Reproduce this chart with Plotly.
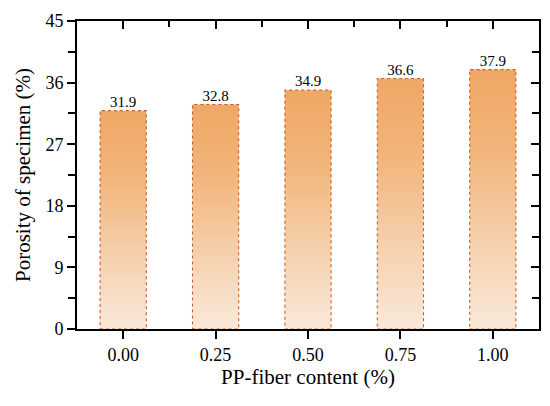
import plotly.graph_objects as go

# data
fiber_content = ["0.00", "0.25", "0.50", "0.75", "1.00"]
porosity = [31.9, 32.8, 34.9, 36.6, 37.9]
y_ticks = [0, 9, 18, 27, 36, 45]

FONT = "Palatino Linotype, Book Antiqua, Palatino, Liberation Serif, DejaVu Serif, serif"
BAR_W = 0.5
grad = [[0.0, "#f9e9da"], [0.35, "#f5cfab"], [0.7, "#f2b479"], [1.0, "#f0a765"]]

fig = go.Figure()

for i, v in enumerate(porosity):
    x0, x1 = i - BAR_W / 2, i + BAR_W / 2
    fig.add_trace(go.Scatter(
        x=[x0, x1, x1, x0, x0], y=[0, 0, v, v, 0],
        mode="lines", fill="toself",
        fillgradient=dict(type="vertical", colorscale=grad),
        line=dict(color="#c2612a", width=1.1, dash="dot"),
        hoverinfo="skip", showlegend=False,
    ))

fig.add_trace(go.Scatter(
    x=list(range(len(porosity))), y=porosity,
    mode="text", text=[f"{v:.1f}" for v in porosity],
    textposition="top center",
    textfont=dict(family=FONT, size=15, color="black"),
    showlegend=False, hoverinfo="skip",
))

# invisible trace so the mirror axes get drawn
fig.add_trace(go.Scatter(x=[0], y=[0], xaxis="x2", yaxis="y2",
                         mode="markers", marker=dict(opacity=0),
                         showlegend=False, hoverinfo="skip"))

axis_font = dict(family=FONT, size=18, color="black")
title_font = dict(family=FONT, size=21, color="black")
xr = [-0.5, len(porosity) - 0.5]

fig.update_layout(
    width=550, height=406,
    margin=dict(l=77, r=11, t=16, b=77),
    plot_bgcolor="white", paper_bgcolor="white",
    font=dict(family=FONT, color="black"),
    xaxis=dict(
        range=xr, tickmode="array",
        tickvals=list(range(len(fiber_content))), ticktext=fiber_content,
        ticks="outside", ticklen=8, tickwidth=1.6, tickcolor="black",
        showline=True, linecolor="black", linewidth=2, showgrid=False,
        zeroline=False, tickfont=axis_font,
        title=dict(text="PP-fiber content (%)", font=title_font, standoff=6),
    ),
    yaxis=dict(
        range=[0, 45], tickmode="array", tickvals=y_ticks,
        ticks="outside", ticklen=8, tickwidth=1.6, tickcolor="black",
        minor=dict(dtick=4.5, ticks="outside", ticklen=7, tickwidth=1.6,
                   tickcolor="black"),
        showline=True, linecolor="black", linewidth=2, showgrid=False,
        zeroline=False, tickfont=axis_font,
        title=dict(text="Porosity of specimen (%)", font=title_font, standoff=9),
    ),
    xaxis2=dict(
        overlaying="x", side="top", anchor="y", range=xr,
        tickmode="linear", tick0=0, dtick=1,
        ticks="inside", ticklen=8, tickwidth=1.6, tickcolor="black",
        minor=dict(dtick=0.5, tick0=0, ticks="inside", ticklen=6,
                   tickwidth=1.6, tickcolor="black"),
        showticklabels=False, showline=True, linecolor="black", linewidth=2,
        showgrid=False, zeroline=False,
    ),
    yaxis2=dict(
        overlaying="y", side="right", anchor="x", range=[0, 45],
        tickmode="array", tickvals=y_ticks,
        ticks="inside", ticklen=8, tickwidth=1.6, tickcolor="black",
        minor=dict(dtick=4.5, ticks="inside", ticklen=7, tickwidth=1.6,
                   tickcolor="black"),
        showticklabels=False, showline=True, linecolor="black", linewidth=2,
        showgrid=False, zeroline=False,
    ),
)

# drop the browser's default body margin so the figure sits at the corner
fig.write_html("out.html", config={"displayModeBar": False},
               post_script="document.body.style.margin = '0';")
